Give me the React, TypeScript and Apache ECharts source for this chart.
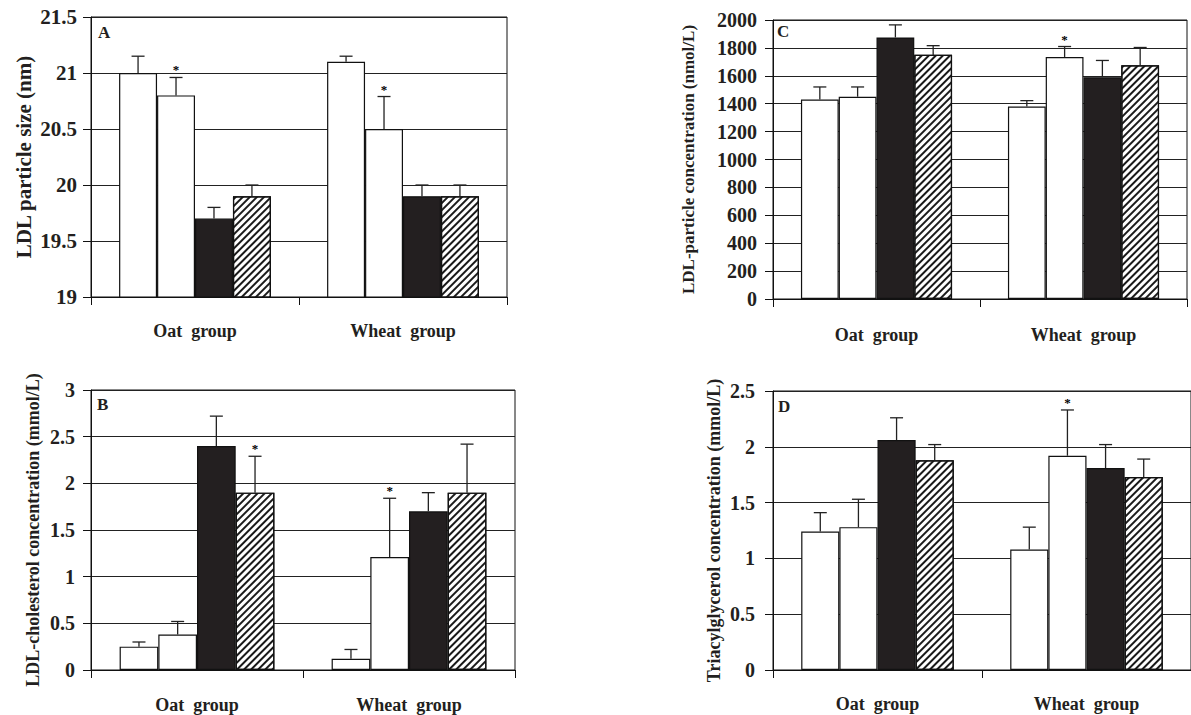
import React, { useEffect, useRef } from "react";
import * as echarts from "echarts";

// ---------- data ----------
const categories = ["Oat  group", "Wheat  group"];

// values indexed [barSeries][category]
const aMeans = [[21.0, 21.1], [20.8, 20.5], [19.7, 19.9], [19.9, 19.9]];
const aErrors = [[0.15, 0.05], [0.16, 0.29], [0.1, 0.1], [0.1, 0.1]];
const aStars = [[0, 0], [1, 1], [0, 0], [0, 0]];
const aAxis = [19, 21.5, 0.5];

const bMeans = [[0.25, 0.12], [0.38, 1.21], [2.4, 1.7], [1.9, 1.9]];
const bErrors = [[0.05, 0.1], [0.14, 0.63], [0.32, 0.2], [0.39, 0.52]];
const bStars = [[0, 0], [0, 1], [0, 0], [1, 0]];
const bAxis = [0, 3, 0.5];

const cMeans = [[1430, 1380], [1450, 1735], [1875, 1590], [1750, 1675]];
const cErrors = [[90, 42], [70, 75], [90, 120], [66, 128]];
const cStars = [[0, 0], [0, 1], [0, 0], [0, 0]];
const cAxis = [0, 2000, 200];

const dMeans = [[1.24, 1.08], [1.28, 1.92], [2.06, 1.81], [1.88, 1.73]];
const dErrors = [[0.17, 0.2], [0.25, 0.41], [0.2, 0.21], [0.14, 0.16]];
const dStars = [[0, 0], [0, 1], [0, 0], [0, 0]];
const dAxis = [0, 2.5, 0.5];

const panelLetters = ["A", "B", "C", "D"];
const yTitles = [
  "LDL particle size (nm)",
  "LDL-cholesterol concentration (mmol/L)",
  "LDL-particle concentration (nmol/L)",
  "Triacylglycerol concentration (mmol/L)",
];

// ---------- layout / style ----------
const SERIF = '"Liberation Serif", "Times New Roman", serif';
const INK = "#231f20";
const GAP = 0.27;

const panels = [
  { means: aMeans, errs: aErrors, stars: aStars, axis: aAxis, grid: { left: 91, top: 17, width: 416, height: 280 },
    tickSize: 21, labelMargin: 14, titleSize: 21, nameGap: 57, catMargin: 25, letter: [98, 33] },
  { means: bMeans, errs: bErrors, stars: bStars, axis: bAxis, grid: { left: 91, top: 390, width: 424, height: 280 },
    tickSize: 20, labelMargin: 16, titleSize: 18, nameGap: 49, catMargin: 26, letter: [97, 405] },
  { means: cMeans, errs: cErrors, stars: cStars, axis: cAxis, grid: { left: 773, top: 20, width: 414, height: 279 },
    tickSize: 20, labelMargin: 16, titleSize: 17, nameGap: 76, catMargin: 27, letter: [777, 32] },
  { means: dMeans, errs: dErrors, stars: dStars, axis: dAxis, grid: { left: 773, top: 391, width: 430, height: 279 },
    tickSize: 20, labelMargin: 18, titleSize: 18, nameGap: 50, catMargin: 25, letter: [778, 407] },
];

const barStyles = [
  { color: "#ffffff", borderColor: "#111", borderWidth: 1.2 },
  { color: "#ffffff", borderColor: "#111", borderWidth: 1.2 },
  { color: INK, borderColor: "#111", borderWidth: 1.2 },
  {
    color: "#ffffff",
    borderColor: "#111",
    borderWidth: 1.2,
    decal: {
      symbol: "rect",
      symbolSize: 1,
      color: "#1a1a1a",
      backgroundColor: "rgba(0,0,0,0)",
      dashArrayX: [8, 0],
      dashArrayY: [1.2, 2.6],
      rotation: -Math.PI / 4,
    },
  },
];
const seriesNames = ["Series 1", "Series 2", "Series 3", "Series 4"];

function buildOption() {
  const grid: any[] = [];
  const xAxis: any[] = [];
  const yAxis: any[] = [];
  const series: any[] = [];
  const graphic: any[] = [];

  panels.forEach((p, i) => {
    grid.push({ ...p.grid, show: true, borderColor: "#111", borderWidth: 1, backgroundColor: "transparent" });
    xAxis.push({
      type: "category",
      gridIndex: i,
      data: categories,
      axisLine: { show: true, lineStyle: { color: "#111", width: 1 } },
      axisTick: { show: true, length: 8, alignWithLabel: false, interval: 0, lineStyle: { color: "#111" } },
      axisLabel: {
        interval: 0,
        margin: p.catMargin,
        fontFamily: SERIF,
        fontWeight: "bold",
        fontSize: 18,
        color: INK,
      },
      splitLine: { show: false },
    });
    yAxis.push({
      type: "value",
      gridIndex: i,
      min: p.axis[0],
      max: p.axis[1],
      interval: p.axis[2],
      name: yTitles[i],
      nameLocation: "middle",
      nameRotate: 90,
      nameGap: p.nameGap,
      nameTextStyle: { fontFamily: SERIF, fontWeight: "bold", fontSize: p.titleSize, color: INK },
      axisLine: { show: true, lineStyle: { color: "#111", width: 1 } },
      axisTick: { show: true, length: 8, inside: false, lineStyle: { color: "#111" } },
      axisLabel: {
        margin: p.labelMargin,
        fontFamily: SERIF,
        fontWeight: "bold",
        fontSize: p.tickSize,
        color: INK,
        formatter: (v: number) => String(Math.round(v * 1000) / 1000),
      },
      splitLine: { show: true, lineStyle: { color: "#222", width: 1 } },
    });

    p.means.forEach((vals, s) => {
      series.push({
        name: seriesNames[s],
        type: "bar",
        xAxisIndex: i,
        yAxisIndex: i,
        data: vals,
        barGap: "0%",
        barCategoryGap: GAP * 100 + "%",
        itemStyle: barStyles[s],
        emphasis: { disabled: true },
        z: 2,
      });
    });

    const errData: number[][] = [];
    p.means.forEach((vals, s) => {
      vals.forEach((v, c) => {
        errData.push([c, v, p.errs[s][c], s, p.stars[s][c]]);
      });
    });
    series.push({
      type: "custom",
      xAxisIndex: i,
      yAxisIndex: i,
      data: errData,
      encode: { x: 0, y: 1 },
      z: 5,
      silent: true,
      itemStyle: { color: "#000" },
      renderItem: (params: any, api: any) => {
        const c = api.value(0);
        const v = api.value(1);
        const e = api.value(2);
        const s = api.value(3);
        const star = api.value(4);
        const base = api.coord([c, v]);
        const top = api.coord([c, v + e]);
        const bw = (api.size([1, 0])[0] * (1 - GAP)) / 4;
        const x = base[0] + (s - 1.5) * bw;
        const half = 6.5;
        const children: any[] = [
          { type: "line", shape: { x1: x, y1: base[1], x2: x, y2: top[1] }, style: { stroke: "#222", lineWidth: 1.3 } },
          { type: "line", shape: { x1: x - half, y1: top[1], x2: x + half, y2: top[1] }, style: { stroke: "#222", lineWidth: 1.3 } },
        ];
        if (star) {
          children.push({
            type: "text",
            x: x,
            y: top[1] - 1,
            style: {
              text: "*",
              align: "center",
              verticalAlign: "bottom",
              fontFamily: SERIF,
              fontWeight: "bold",
              fontSize: 13,
              fill: "#000",
            },
          });
        }
        return { type: "group", children };
      },
    });

    graphic.push({
      type: "text",
      left: p.letter[0],
      top: p.letter[1] - 9,
      style: { text: panelLetters[i], fontFamily: SERIF, fontWeight: "bold", fontSize: 17, fill: INK },
    });
  });

  return {
    animation: false,
    backgroundColor: "#ffffff",
    grid,
    xAxis,
    yAxis,
    series,
    graphic,
  };
}

export default function App() {
  const ref = useRef<HTMLDivElement>(null);
  useEffect(() => {
    if (!ref.current) return;
    const chart = echarts.init(ref.current, undefined, { renderer: "svg" });
    chart.setOption(buildOption());
    return () => chart.dispose();
  }, []);
  return (
    <div
      ref={ref}
      style={{ position: "absolute", left: 0, top: 0, width: 1191, height: 715, background: "#fff" }}
    />
  );
}
